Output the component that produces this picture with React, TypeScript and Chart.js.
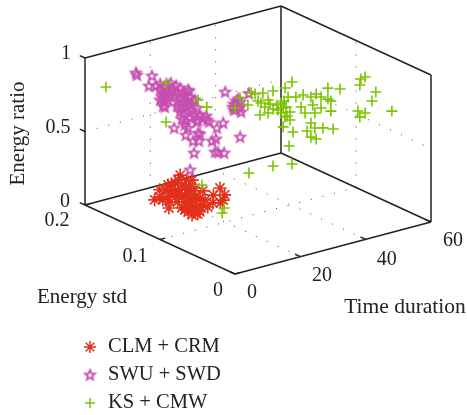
import React, { useEffect, useRef } from "react";
import { Chart, registerables } from "chart.js";
import { drawPoint } from "chart.js/helpers";

Chart.register(...registerables);

const SERIES_NAMES = ["CLM + CRM", "SWU + SWD", "KS + CMW"];
const TIME_TICKS = [0, 20, 40, 60];
const STD_TICKS = [0, 0.1, 0.2];
const RATIO_TICKS = [0, 0.5, 1];
const AXIS_TITLES = ["Time duration", "Energy std", "Energy ratio"];

const CLM_TIME = [28, 27.2, 28.2, 21.5, 23.7, 24.2, 18.8, 20.1, 21.3, 23.5, 24.5, 25.4, 25.7, 30.3, 26, 28.3, 25.8, 22.6, 24, 12.6, 14.8, 14.2, 16.4, 17.7, 19.1, 20.3, 11.9, 16.2, 17.6, 18.9, 15.9, 17, 18.4, 19.8, 13.9, 15.3, 15, 14.2, 16.4, 20.5, 22, 22.2, 19.9, 22.6, 25.5, 17.8, 18.5, 19.6, 22.4, 14.7, 20.1, 22.3, 14.5, 16.3, 13.5];
const CLM_STD = [0.195, 0.183, 0.18, 0.183, 0.183, 0.176, 0.175, 0.172, 0.169, 0.169, 0.167, 0.164, 0.155, 0.152, 0.142, 0.137, 0.128, 0.128, 0.124, 0.162, 0.165, 0.158, 0.161, 0.157, 0.154, 0.151, 0.14, 0.147, 0.143, 0.14, 0.133, 0.13, 0.127, 0.129, 0.123, 0.12, 0.115, 0.129, 0.129, 0.156, 0.149, 0.143, 0.123, 0.183, 0.187, 0.178, 0.167, 0.161, 0.157, 0.151, 0.14, 0.137, 0.134, 0.118, 0.116];
const CLM_RATIO = [0.05, 0.05, 0.05, 0.05, 0.05, 0.05, 0.05, 0.05, 0.05, 0.05, 0.05, 0.05, 0.05, 0.05, 0.05, 0.05, 0.05, 0.05, 0.05, 0.05, 0.05, 0.05, 0.05, 0.05, 0.05, 0.05, 0.05, 0.05, 0.05, 0.05, 0.05, 0.05, 0.05, 0.05, 0.05, 0.05, 0.05, 0.05, 0.05, 0.05, 0.05, 0.05, 0.05, 0.05, 0.05, 0.05, 0.05, 0.05, 0.05, 0.05, 0.05, 0.05, 0.05, 0.05, 0.05];

const SWU_TIME = [4.1, 4.4, 8.1, 9, 10.3, 11.5, 12.7, 13.9, 14.8, 16.4, 11.5, 12.4, 13.6, 15.2, 16.4, 17.6, 18.8, 20, 20.4, 12.1, 13.3, 14.5, 12.7, 13.9, 11.5, 12.4, 13, 16.1, 17.6, 18.8, 17, 18.5, 19.7, 20.7, 21.6, 16.7, 17.9, 19.1, 20.7, 22.2, 17.6, 18.8, 20, 21.3, 22.8, 18.2, 19.4, 20.7, 22.2, 23.7, 23.1, 24.6, 25.6, 25.9, 26.5, 22.8, 19.1, 20, 15.8, 28.9, 30.8, 19.4, 23.1, 23.7, 21.6, 23.4, 27.4, 28.6, 21.9, 28.3, 29.2, 31.1, 20.7, 36, 38.7, 31.4, 34.7, 35.4, 36, 34.1, 35, 36, 33.8, 34.7, 35.7, 36.3, 34.1];
const SWU_STD = [0.15, 0.15, 0.15, 0.15, 0.15, 0.15, 0.15, 0.15, 0.15, 0.15, 0.15, 0.15, 0.15, 0.15, 0.15, 0.15, 0.15, 0.15, 0.15, 0.15, 0.15, 0.15, 0.15, 0.15, 0.15, 0.15, 0.15, 0.15, 0.15, 0.15, 0.15, 0.15, 0.15, 0.15, 0.15, 0.15, 0.15, 0.15, 0.15, 0.15, 0.15, 0.15, 0.15, 0.15, 0.15, 0.15, 0.15, 0.15, 0.15, 0.15, 0.15, 0.15, 0.15, 0.15, 0.15, 0.15, 0.15, 0.15, 0.15, 0.15, 0.15, 0.15, 0.15, 0.15, 0.15, 0.15, 0.15, 0.15, 0.15, 0.15, 0.15, 0.15, 0.15, 0.15, 0.15, 0.15, 0.15, 0.15, 0.15, 0.15, 0.15, 0.15, 0.15, 0.15, 0.15, 0.15, 0.15];
const SWU_RATIO = [0.992, 0.975, 0.879, 0.943, 0.868, 0.873, 0.845, 0.852, 0.86, 0.831, 0.832, 0.806, 0.812, 0.81, 0.79, 0.81, 0.775, 0.782, 0.773, 0.781, 0.78, 0.78, 0.743, 0.75, 0.764, 0.718, 0.707, 0.764, 0.741, 0.748, 0.718, 0.709, 0.715, 0.724, 0.697, 0.692, 0.671, 0.678, 0.676, 0.701, 0.646, 0.626, 0.632, 0.638, 0.643, 0.595, 0.574, 0.588, 0.605, 0.59, 0.559, 0.564, 0.572, 0.543, 0.526, 0.548, 0.549, 0.523, 0.548, 0.471, 0.494, 0.479, 0.471, 0.46, 0.425, 0.415, 0.391, 0.398, 0.342, 0.311, 0.305, 0.288, 0.234, 0.368, 0.648, 0.701, 0.62, 0.63, 0.606, 0.603, 0.591, 0.579, 0.584, 0.565, 0.567, 0.536, 0.563];

const KS_TIME = [6.4, 24.8, 34.6, 37.3, 24.8, 24.3, 38.7, 19.6, 19, 34.6, 40.4, 39.5, 24.5, 23, 27.9, 29.1, 31.5, 26.9, 30.9, 33.1, 32.1, 30.6, 33.1, 34.6, 34.6, 36.1, 37, 37, 37.7, 38.3, 38.3, 38.6, 39.2, 39.8, 39.8, 37.7, 40.4, 40.7, 41.6, 43.8, 43.2, 44.4, 46.2, 46.8, 47.4, 47.8, 49.3, 49.3, 51.4, 51.4, 52.3, 52.3, 55.1, 46.2, 47.4, 49.9, 53, 45, 46.2, 47.8, 30, 33.7, 35.8, 38, 38.9, 51.3, 50, 49.7, 54.6, 53.4, 59.5, 49.1, 51.3, 49.7];
const KS_STD = [0.2, 0.2, 0.2, 0.2, 0.2, 0.15, 0.15, 0.1, 0.1, 0.1, 0.1, 0.1, 0.1, 0.1, 0.1, 0.1, 0.1, 0.1, 0.1, 0.1, 0.1, 0.1, 0.1, 0.1, 0.1, 0.1, 0.1, 0.1, 0.1, 0.1, 0.1, 0.1, 0.1, 0.1, 0.1, 0.1, 0.1, 0.1, 0.1, 0.1, 0.1, 0.1, 0.1, 0.1, 0.1, 0.1, 0.1, 0.1, 0.1, 0.1, 0.1, 0.1, 0.1, 0.1, 0.1, 0.1, 0.1, 0.1, 0.1, 0.1, 0.1, 0.1, 0.1, 0.1, 0.1, 0.05, 0.05, 0.05, 0.05, 0.05, 0.05, 0.05, 0.05, 0.05];
const KS_RATIO = [0.765, 0.684, 0.51, 0.446, 0.418, 0.11, 0.107, 0.099, 0.068, 0.296, 0.275, 0.403, 0.818, 0.759, 0.833, 0.818, 0.811, 0.756, 0.746, 0.754, 0.712, 0.667, 0.665, 0.806, 0.684, 0.668, 0.71, 0.642, 0.673, 0.805, 0.608, 0.674, 0.738, 0.633, 0.578, 0.544, 0.833, 0.491, 0.724, 0.725, 0.647, 0.599, 0.697, 0.639, 0.581, 0.708, 0.679, 0.604, 0.727, 0.652, 0.633, 0.565, 0.699, 0.52, 0.479, 0.465, 0.439, 0.473, 0.424, 0.402, 0.765, 0.723, 0.704, 0.718, 0.611, 0.92, 0.914, 0.875, 0.799, 0.745, 0.64, 0.702, 0.675, 0.657];

const RED = "#E2301A";
const MAGENTA = "#C64FB0";
const GREEN = "#7CC400";
const INK = "#222222";
const SERIF = '"Liberation Serif", serif';

// Oblique view of the 3-D box onto the plot plane.
const project = (t: number, s: number, z: number) => ({
  x: 235 + (196 * t) / 60 - (150 * s) / 0.2,
  y: 274 - (52 * t) / 60 - (69 * s) / 0.2 - 147 * z,
});

const pts = (ts: number[], ss: number[], zs: number[]) => ts.map((t, i) => project(t, ss[i], zs[i]));

const segment = (a: number[], b: number[]) => [project(a[0], a[1], a[2]), project(b[0], b[1], b[2])];

const lineSet = (data: any[], dotted: boolean) => ({
  data,
  showLine: true,
  pointRadius: 0,
  borderColor: dotted ? "#444444" : INK,
  borderWidth: dotted ? 1 : 1.5,
  borderDash: dotted ? [1, 11] : [],
  order: dotted ? 11 : 10,
  label: "",
});

const makeStar = () => {
  const c = document.createElement("canvas");
  c.width = 15;
  c.height = 15;
  const g = c.getContext("2d")!;
  g.strokeStyle = MAGENTA;
  g.lineWidth = 1.8;
  g.lineJoin = "miter";
  g.beginPath();
  for (let i = 0; i < 10; i++) {
    const r = i % 2 === 0 ? 5.2 : 2.3;
    const a = -Math.PI / 2 + (i * Math.PI) / 5;
    const x = 7.5 + r * Math.cos(a);
    const y = 7.8 + r * Math.sin(a);
    if (i === 0) g.moveTo(x, y);
    else g.lineTo(x, y);
  }
  g.closePath();
  g.stroke();
  return c;
};

export default function App() {
  const ref = useRef<HTMLCanvasElement>(null);
  useEffect(() => {
    const star = makeStar();
    const [tMax, sMax, zMax] = [TIME_TICKS[3], STD_TICKS[2], RATIO_TICKS[2]];

    const solid = [
      segment([0, 0, 0], [tMax, 0, 0]),
      segment([0, 0, 0], [0, sMax, 0]),
      segment([0, sMax, 0], [tMax, sMax, 0]),
      segment([tMax, 0, 0], [tMax, sMax, 0]),
      segment([0, sMax, 0], [0, sMax, zMax]),
      segment([tMax, sMax, 0], [tMax, sMax, zMax]),
      segment([tMax, 0, 0], [tMax, 0, zMax]),
      segment([0, sMax, zMax], [tMax, sMax, zMax]),
      segment([tMax, sMax, zMax], [tMax, 0, zMax]),
      ...TIME_TICKS.map((t) => segment([t, 0, 0], [t, 0.007, 0])),
      ...STD_TICKS.map((s) => segment([0, s, 0], [1.6, s, 0])),
      ...RATIO_TICKS.map((z) => segment([0, sMax, z], [0, sMax + 0.007, z])),
    ];
    const dotted = [
      segment([0, sMax, 0.5], [tMax, sMax, 0.5]),
      segment([tMax, sMax, 0.5], [tMax, 0, 0.5]),
      segment([TIME_TICKS[1], sMax, 0], [TIME_TICKS[1], sMax, zMax]),
      segment([TIME_TICKS[2], sMax, 0], [TIME_TICKS[2], sMax, zMax]),
      segment([tMax, STD_TICKS[1], 0], [tMax, STD_TICKS[1], zMax]),
      segment([TIME_TICKS[1], 0, 0], [TIME_TICKS[1], sMax, 0]),
      segment([TIME_TICKS[2], 0, 0], [TIME_TICKS[2], sMax, 0]),
      segment([0, STD_TICKS[1], 0], [tMax, STD_TICKS[1], 0]),
    ];

    const textPlugin = {
      id: "boxText",
      afterDraw(chart: any) {
        const g = chart.ctx;
        const sx = chart.scales.x;
        const sy = chart.scales.y;
        const put = (p: { x: number; y: number }, dx: number, dy: number, text: string, size: number, rot = 0) => {
          g.save();
          g.translate(sx.getPixelForValue(p.x) + dx, sy.getPixelForValue(p.y) + dy);
          g.rotate(rot);
          g.font = `${size}px ${SERIF}`;
          g.fillStyle = INK;
          g.textAlign = "center";
          g.textBaseline = "middle";
          g.fillText(text, 0, 0);
          g.restore();
        };
        const tOff = [[17, 19], [21.7, 19.3], [21, 20], [22, 19]];
        TIME_TICKS.forEach((t, i) => put(project(t, 0, 0), tOff[i][0], tOff[i][1], String(t), 20));
        const sOff = [[-17, 17], [-25, 17.5], [-28, 16]];
        STD_TICKS.forEach((s, i) => put(project(0, s, 0), sOff[i][0], sOff[i][1], String(s), 20));
        const zOff = [[-20, -3], [-27, -3.5], [-19, -4]];
        RATIO_TICKS.forEach((z, i) => put(project(0, sMax, z), zOff[i][0], zOff[i][1], String(z), 20));
        put(project(tMax, 0, 0), -26, 85, AXIS_TITLES[0], 21.5);
        put(project(0, sMax, 0), -3, 92, AXIS_TITLES[1], 21);
        put(project(0, sMax, 0.5), -67, 2, AXIS_TITLES[2], 21, -Math.PI / 2);

        // Legend
        const markers: any[] = [
          { style: "star", color: RED, r: 6 },
          { style: star, color: MAGENTA, r: 5 },
          { style: "cross", color: GREEN, r: 5 },
        ];
        SERIES_NAMES.forEach((name, i) => {
          const y = 347 + i * 28;
          g.save();
          g.strokeStyle = markers[i].color;
          g.fillStyle = markers[i].color;
          g.lineWidth = 1.5;
          drawPoint(g, { pointStyle: markers[i].style, radius: markers[i].r, rotation: 0, borderWidth: 1.5 } as any, 90, y);
          g.restore();
          g.font = `20.5px ${SERIF}`;
          g.fillStyle = INK;
          g.textAlign = "left";
          g.textBaseline = "middle";
          g.fillText(name, 108, y);
        });
      },
    };

    const chart = new Chart(ref.current!, {
      type: "scatter",
      data: {
        datasets: [
          ...dotted.map((d) => lineSet(d, true)),
          ...solid.map((d) => lineSet(d, false)),
          {
            label: SERIES_NAMES[0],
            data: pts(CLM_TIME, CLM_STD, CLM_RATIO),
            pointStyle: "star",
            pointRadius: 6.5,
            borderColor: RED,
            backgroundColor: RED,
            pointBorderWidth: 1.6,
            order: 3,
          },
          {
            label: SERIES_NAMES[1],
            data: pts(SWU_TIME, SWU_STD, SWU_RATIO),
            pointStyle: star,
            pointRadius: 6,
            borderColor: MAGENTA,
            backgroundColor: MAGENTA,
            order: 2,
          },
          {
            label: SERIES_NAMES[2],
            data: pts(KS_TIME, KS_STD, KS_RATIO),
            pointStyle: "cross",
            pointRadius: 5.5,
            borderColor: GREEN,
            backgroundColor: GREEN,
            pointBorderWidth: 1.6,
            order: 1,
          },
        ] as any,
      },
      options: {
        animation: false,
        responsive: false,
        layout: { padding: 0, autoPadding: false },
        plugins: { legend: { display: false }, tooltip: { enabled: false } },
        scales: {
          x: { type: "linear", display: false, min: 0, max: 467 },
          y: { type: "linear", display: false, min: 0, max: 415, reverse: true },
        },
      },
      plugins: [textPlugin],
    } as any);
    return () => chart.destroy();
  }, []);
  return <canvas ref={ref} width={467} height={415} style={{ position: "absolute", left: 0, top: 0 }} />;
}
